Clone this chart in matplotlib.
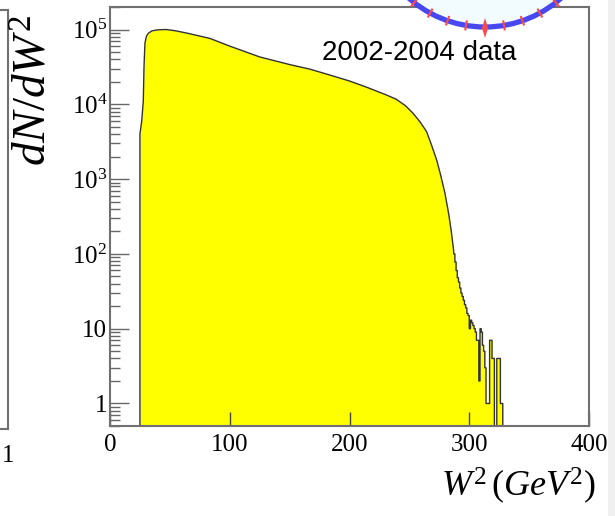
import numpy as np
import matplotlib
matplotlib.use("Agg")
import matplotlib.pyplot as plt
from matplotlib.patches import Circle, Polygon, Rectangle
from matplotlib.lines import Line2D
from matplotlib.ticker import LogLocator, NullFormatter

plt.rcParams["font.family"] = ["Liberation Serif", "DejaVu Serif"]
plt.rcParams["mathtext.fontset"] = "custom"
plt.rcParams["mathtext.rm"] = "Liberation Serif"
plt.rcParams["mathtext.it"] = "Liberation Serif:italic"

# smooth part of the W^2 spectrum (GeV^2, entries)
body_w2 = [25.0, 25.0, 26.5, 27.8, 28.4, 29.2, 30.5, 32, 35, 40, 47, 55, 65,
           83.5, 100, 125, 150, 167, 184, 200, 214, 230, 239, 247, 253, 259,
           264.4, 268, 272.8, 276, 279.7, 283, 285, 287]
body_counts = [0, 4000, 6000, 1.1e4, 3.2e4, 6.6e4, 8.2e4, 8.9e4, 9.6e4, 9.9e4,
               1.0e5, 9.6e4, 8.9e4, 7.6e4, 6.0e4, 4.3e4, 3.4e4, 2.95e4, 2.45e4,
               2.05e4, 1.7e4, 1.35e4, 1.17e4, 9.5e3, 7.6e3, 5.8e3, 4.3e3, 3.0e3,
               1.8e3, 1.15e3, 650, 330, 200, 110]

# noisy tail in 1 GeV^2 bins
tail_edges = list(range(287, 330))
tail_counts = [100, 78, 60, 48, 42, 35, 30, 27, 24, 21, 19, 16, 15, 10, 13,
               12, 11, 10, 9, 7, 7, 2, 10, 9, 6, 5, 3, 1, 1, 1, 7, 7, 4, 4,
               0, 0, 4, 4, 4, 1, 1, 0]

x_ticks = [0, 100, 200, 300, 400]
y_ticks = [1, 10, 100, 1e3, 1e4, 1e5]
y_tick_labels = ["1", "10", "$10^{2}$", "$10^{3}$", "$10^{4}$", "$10^{5}$"]

# build one outline: smooth part then the steps of the tail
xs = list(body_w2)
ys = list(body_counts)
for i, c in enumerate(tail_counts):
    xs += [tail_edges[i], tail_edges[i + 1]]
    ys += [c, c]
xs.append(tail_edges[-1])
ys.append(0)
ys = np.maximum(np.array(ys, dtype=float), 0.1)

W, H = 615, 516
fig = plt.figure(figsize=(W / 100, H / 100), dpi=100)
ax = fig.add_axes([110 / W, 90 / H, 479 / W, 419 / H])

ax.fill_between(xs, 0.1, ys, color="#ffff00", lw=0)
ax.plot(xs, ys, color="#333333", lw=1)

ax.set_yscale("log")
ax.set_xlim(0, 400)
ax.set_ylim(0.5, 2e5)
ax.set_xticks(x_ticks)
ax.set_yticks(y_ticks, y_tick_labels)
ax.yaxis.set_minor_locator(LogLocator(base=10, subs=range(2, 10)))
ax.yaxis.set_minor_formatter(NullFormatter())
ax.tick_params(axis="y", which="major", direction="in", length=14, width=1,
               color="#666666", labelsize=18, pad=2)
ax.tick_params(axis="y", which="minor", direction="in", length=7, width=1,
               color="#666666")
ax.tick_params(axis="x", which="major", direction="in", length=10, width=1,
               color="#444444", labelsize=18, pad=6)
for s in ax.spines.values():
    s.set_color("#707070")
    s.set_linewidth(1.5)

fig.text(35 / W, 1 - 90 / H, r"$dN/dW^{2}$", rotation=90, fontsize=34,
         ha="center", va="center")
fig.text(518 / W, 1 - 486 / H, r"$W^{2}\,(GeV^{2})$", fontsize=26,
         ha="center", va="center")

# bits of the neighbouring panel on the left
for seg in [((8, 8), (10, 429)), ((0, 8), (10, 10)), ((0, 8), (429, 429))]:
    fig.add_artist(Line2D([v / W for v in seg[0]], [1 - v / H for v in seg[1]],
                          color="#707070", lw=1.5))
fig.text(8.5 / W, 1 - 456 / H, "1", fontsize=18, ha="center", va="center")

# grey strip on the right edge
fig.add_artist(Rectangle((608 / W, 0), 7 / W, 1, transform=fig.transFigure,
                         color="#f0f0f0", lw=0))

# logo circle at the top
cx, cy, r = 4.85, (H + 88) / 100, 1.15
tr = fig.dpi_scale_trans
fig.add_artist(Circle((cx, cy), r, transform=tr, facecolor="#f2fcff",
                      edgecolor="#4848f0", lw=3.8, zorder=5))
for k in range(-4, 5):
    if k == 0:
        continue
    a = np.deg2rad(-90 + 9.5 * k)
    fig.add_artist(Line2D([cx + (r - 0.04) * np.cos(a), cx + (r + 0.04) * np.cos(a)],
                          [cy + (r - 0.04) * np.sin(a), cy + (r + 0.04) * np.sin(a)],
                          transform=tr, color="#ff4848", lw=1.5, zorder=6))
fig.add_artist(Polygon([(4.85, (H - 18) / 100), (4.88, (H - 28) / 100),
                        (4.85, (H - 38) / 100), (4.82, (H - 28) / 100)],
                       transform=tr, color="#ff4848", lw=0, zorder=6))

fig.text(322 / W, 1 - 60 / H, "2002-2004 data", family="Liberation Sans",
         fontsize=20, va="baseline", zorder=7)

fig.savefig("out.png", dpi=100)
